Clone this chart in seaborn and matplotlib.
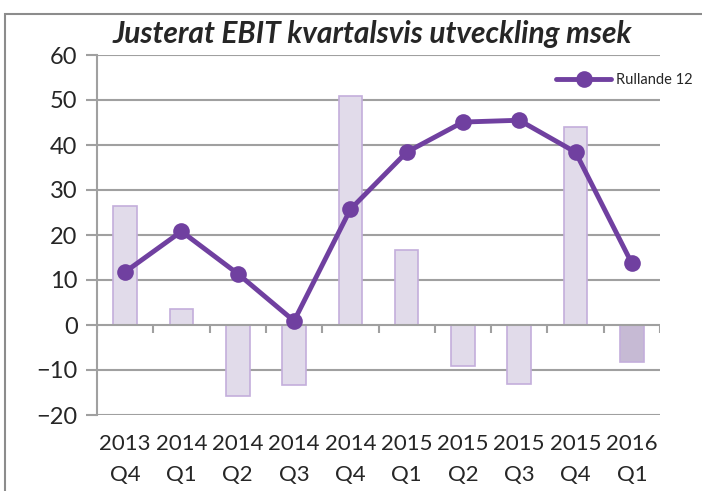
import matplotlib
matplotlib.use("Agg")
import matplotlib.pyplot as plt
from matplotlib.lines import Line2D
from matplotlib.patches import Rectangle
import numpy as np
import seaborn as sns

# quarterly adjusted EBIT (bars) and rolling 12 months (line), msek
years = ["2013", "2014", "2014", "2014", "2014", "2015", "2015", "2015", "2015", "2016"]
quarters = ["Q4", "Q1", "Q2", "Q3", "Q4", "Q1", "Q2", "Q3", "Q4", "Q1"]
kvartal = [26.5, 3.5, -15.7, -13.3, 51.0, 16.7, -9.0, -13.0, 44.0, -8.3]
rullande = [11.8, 20.8, 11.4, 0.9, 25.7, 38.4, 45.1, 45.5, 38.4, 13.7]

labels = [f"{y}\n{q}" for y, q in zip(years, quarters)]

sns.set_style("white")
plt.rcParams["font.family"] = ["Lato", "DejaVu Sans"]

fig = plt.figure(figsize=(7.02, 4.91), dpi=100)
ax = fig.add_axes([97 / 702, 1 - 415 / 491, 563 / 702, 360 / 491])

grid = "#a0a0a0"
purple = "#7040a0"
bar_fill = ["#e1d9ec"] * (len(kvartal) - 1) + ["#c5b5d9"]

for y in [-20, -10, 10, 20, 30, 40, 50, 60]:
    ax.axhline(y, color=grid, lw=1.5, zorder=0)

sns.barplot(x=labels, y=kvartal, hue=labels, palette=bar_fill, legend=False,
            width=0.42, edgecolor="#c3aedb", linewidth=1.2, ax=ax, zorder=2)

ax.axhline(0, color=grid, lw=1.5, zorder=3)
ax.vlines(np.arange(-0.5, len(kvartal)), 0, -1.8, color=grid, lw=1.5, zorder=3)

sns.lineplot(x=np.arange(len(rullande)), y=rullande, color=purple, lw=3.5,
             marker="o", markersize=12, markeredgewidth=0, ax=ax, zorder=4)

ax.set_xlim(-0.5, len(kvartal) - 0.5)
ax.set_ylim(-20, 60)
ax.set_yticks(range(-20, 61, 10))
ax.tick_params(axis="y", labelsize=17, length=8, color=grid, width=1.5, pad=6, left=True)
ax.tick_params(axis="x", labelsize=16, length=0, pad=14)
for t in ax.get_xticklabels():
    t.set_linespacing(1.65)
for s in ["top", "right", "bottom"]:
    ax.spines[s].set_visible(False)
ax.spines["left"].set_color(grid)
ax.spines["left"].set_linewidth(1.5)

fig.text(372 / 702, 1 - 34 / 491, "Justerat EBIT kvartalsvis utveckling msek",
         ha="center", va="center", fontsize=21.5, fontweight="bold", fontstyle="italic")

handle = Line2D([], [], color=purple, lw=3.5, marker="o", markersize=12, markeredgewidth=0)
fig.legend(handles=[handle], labels=["Rullande 12"], loc="center left",
           bbox_to_anchor=(550 / 702, 1 - 80 / 491), frameon=False, fontsize=10.5,
           handlelength=3.8, handletextpad=0.3, borderaxespad=0)

fig.patches.append(Rectangle((5 / 702, -0.1), 1.2, 1 - 14 / 491 + 0.1, transform=fig.transFigure,
                             fill=False, edgecolor="#8c8c8c", lw=1.5))

fig.savefig("out.png", dpi=100)
